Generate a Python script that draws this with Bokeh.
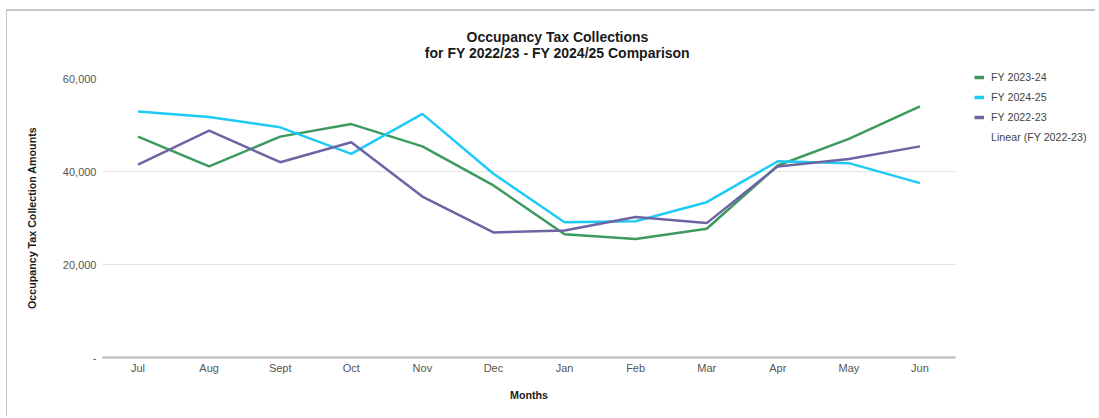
from bokeh.plotting import figure
from bokeh.layouts import row
from bokeh.models import Legend, LegendItem, Label, Range1d, FactorRange, NumeralTickFormatter
from bokeh.embed import file_html
from bokeh.resources import INLINE

months = ["Jul", "Aug", "Sept", "Oct", "Nov", "Dec", "Jan", "Feb", "Mar", "Apr", "May", "Jun"]
fy2324 = [47500, 41100, 47500, 50200, 45400, 37000, 26500, 25500, 27700, 41300, 47000, 54000]
fy2425 = [52900, 51700, 49500, 43800, 52400, 39500, 29100, 29300, 33400, 42200, 41800, 37500]
fy2223 = [41500, 48800, 42000, 46300, 34600, 26900, 27300, 30200, 28900, 41100, 42700, 45400]
y_ticks = [0, 20000, 40000, 60000]
title_lines = ["Occupancy Tax Collections", "for FY 2022/23 - FY 2024/25 Comparison"]
series_names = ["FY 2023-24", "FY 2024-25", "FY 2022-23", "Linear (FY 2022-23)"]
series_colors = ["#3c9a5f", "#1ecbf6", "#6b66a3", None]

FONT = "Liberation Sans"

p = figure(width=953, height=405, output_backend="svg", toolbar_location=None,
           x_range=FactorRange(*months), y_range=Range1d(0, 60000),
           min_border_left=95, min_border_right=5, min_border_top=67, min_border_bottom=59)
p.outline_line_color = None
p.background_fill_color = "white"
p.border_fill_color = "white"
p.title.visible = False

# two centred title lines, placed in canvas pixels inside the top border panel
for i, line in enumerate(title_lines):
    p.add_layout(Label(x=550, y=25 + 16 * i, x_units="canvas", y_units="canvas", text=line,
                       text_align="center", text_baseline="middle", text_font=FONT,
                       text_font_size="14px", text_font_style="bold", text_color="#1a1a1a"),
                 "above")

p.line(months, fy2324, line_color=series_colors[0], line_width=2.5)
p.line(months, fy2425, line_color=series_colors[1], line_width=2.5)
p.line(months, fy2223, line_color=series_colors[2], line_width=2.5)

# axes
p.yaxis.ticker = y_ticks
p.yaxis.formatter = NumeralTickFormatter(format="0,0")
p.yaxis.major_label_overrides = {0: "-"}
p.yaxis.axis_line_color = None
p.yaxis.major_tick_line_color = None
p.yaxis.minor_tick_line_color = None
p.yaxis.major_tick_out = 0
p.yaxis.minor_tick_out = 0
p.yaxis.major_label_standoff = 6
p.yaxis.major_label_text_font = FONT
p.yaxis.major_label_text_font_size = "11px"
p.yaxis.major_label_text_color = "#555555"
p.yaxis.axis_label = "Occupancy Tax Collection Amounts"
p.yaxis.axis_label_text_font = FONT
p.yaxis.axis_label_text_font_size = "10.7px"
p.yaxis.axis_label_text_font_style = "bold"
p.yaxis.axis_label_text_color = "#1a1a1a"
p.yaxis.axis_label_standoff = 22

p.xaxis.axis_line_color = "#b5b5b5"
p.xaxis.axis_line_width = 2
p.xaxis.major_tick_line_color = None
p.xaxis.minor_tick_line_color = None
p.xaxis.major_tick_out = 0
p.xaxis.minor_tick_out = 0
p.xaxis.major_label_standoff = 4
p.xaxis.major_label_text_font = FONT
p.xaxis.major_label_text_font_size = "11px"
p.xaxis.major_label_text_color = "#555555"
p.xaxis.axis_label = "Months"
p.xaxis.axis_label_text_font = FONT
p.xaxis.axis_label_text_font_size = "10.7px"
p.xaxis.axis_label_text_font_style = "bold"
p.xaxis.axis_label_text_color = "#1a1a1a"
p.xaxis.axis_label_standoff = 12

p.xgrid.grid_line_color = None
p.ygrid.grid_line_color = "#e3e3e3"
p.ygrid.grid_line_width = 1

# legend panel (separate figure so it is not clipped by the main frame)
leg = figure(width=135, height=405, output_backend="svg", toolbar_location=None,
             x_axis_type=None, y_axis_type=None, x_range=Range1d(0, 1), y_range=Range1d(0, 1),
             min_border_left=0, min_border_right=0, min_border_top=0, min_border_bottom=0)
leg.outline_line_color = None
leg.border_fill_color = "white"
leg.background_fill_color = "white"
for fig in (p, leg):
    if "frame_align" in fig.properties():
        fig.frame_align = False
nan = float("nan")
items = []
for name, col in zip(series_names, series_colors):
    if col is None:
        r = leg.line([nan], [nan], line_alpha=0)
    else:
        r = leg.line([nan], [nan], line_color=col, line_width=3.5)
    items.append(LegendItem(label=name, renderers=[r]))
legend = Legend(items=items, location=(14, 272), padding=0, margin=0, spacing=6,
                glyph_width=10, glyph_height=14, label_height=14, label_standoff=7,
                border_line_color=None, background_fill_alpha=0,
                label_text_font=FONT, label_text_font_size="10.7px", label_text_color="#444444")
leg.add_layout(legend, "center")

layout = row(p, leg)
layout.styles = {"margin-left": "6px", "margin-top": "9px",
                 "border-top": "2px solid #c6c6c6", "border-left": "1.5px solid #c6c6c6"}

open("out.html", "w").write(file_html(layout, INLINE))
